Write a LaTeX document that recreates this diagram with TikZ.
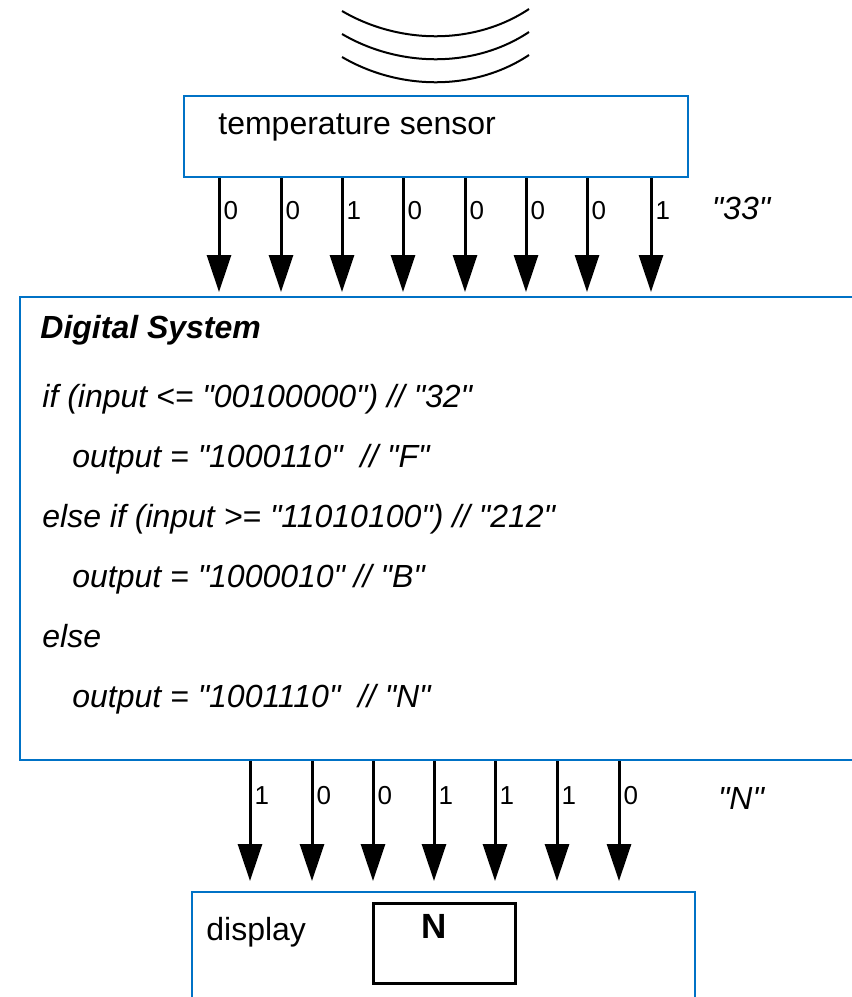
\documentclass[tikz,border=0pt]{standalone}
\usepackage{fontspec}
\setmainfont{Liberation Sans}[Ligatures=TeXOff]
\usetikzlibrary{arrows.meta, positioning}
\definecolor{boxblue}{RGB}{0,114,198}
\tikzstyle{bbox} = [rectangle, draw=boxblue, line width=1pt, inner sep=0pt]
\tikzstyle{nframe} = [rectangle, draw, line width=1.5pt, inner sep=0pt]
\tikzstyle{bitarrow} = [draw, line width=1.5pt, -{Triangle[width=12pt,length=18.5pt]}]
\tikzstyle{bitlabel} = [right, inner sep=1.5pt, font=\fontsize{13}{14}\selectfont]
\tikzstyle{txt} = [inner sep=0pt, anchor=base west, font=\fontsize{16}{19}\selectfont]
\tikzstyle{code} = [txt, font=\fontsize{16}{19}\selectfont\itshape]
\tikzstyle{wave} = [draw, line width=1pt]

\begin{document}
\begin{tikzpicture}[x=0.5pt, y=-0.5pt]
			\useasboundingbox (0,0) rectangle (852,997);
			
			% heat waves
			\foreach \dy in {0,23,46}
				\path [wave] (342,11+\dy) .. controls (400,45+\dy) and (475,45+\dy) .. (529,9+\dy);
			
			\node [bbox, minimum width=252pt, minimum height=40.5pt] (sensor) at (436,136.5) {};
			\node [bbox, minimum width=440pt, minimum height=231.5pt] (dsys) at (460,528.5) {};
			\node [bbox, minimum width=251.5pt, minimum height=74pt] (display) at (443.5,966) {};
			\node [nframe, minimum width=71pt, minimum height=40pt] (nbox) at (444,943) {};
			
			\node [txt] (sensorlabel) at (218,134) {temperature sensor};
			\node [txt, font=\fontsize{16}{19}\selectfont\bfseries\itshape] (title) at (40,338) {Digital System};
			\node [code] (c1) at (42,407) {if (input <= "00100000") // "32"};
			\node [code] (c2) at (72,467) {output = "1000110"\ \ // "F"};
			\node [code] (c3) at (42,527) {else if (input >= "11010100") // "212"};
			\node [code] (c4) at (72,587) {output = "1000010" // "B"};
			\node [code] (c5) at (42,647) {else};
			\node [code] (c6) at (72,707) {output = "1001110"\ \ // "N"};
			\node [code, anchor=base] (inval) at (741,219) {"33"};
			\node [code, anchor=base] (outval) at (741,809) {"N"};
			\node [txt] (displabel) at (206,940) {display};
			\node [txt, anchor=base, font=\fontsize{17.5}{20}\selectfont\bfseries] (nchar) at (434,938) {N};
			
			% input bits
			\foreach \x/\b in {219/0, 281/0, 342/1, 403/0, 465/0, 526/0, 587/0, 651/1}
				\path [bitarrow, shorten >=2pt] (\x,0 |- sensor.south) -- node [bitlabel, pos=0.28] {\b} (\x,0 |- dsys.north);
			
			% output bits
			\foreach \x/\b in {250/1, 312/0, 373/0, 434/1, 495/1, 557/1, 619/0}
				\path [bitarrow, shorten >=5pt] (\x,0 |- dsys.south) -- node [bitlabel, pos=0.265] {\b} (\x,0 |- display.north);
		\end{tikzpicture}
\end{document}
